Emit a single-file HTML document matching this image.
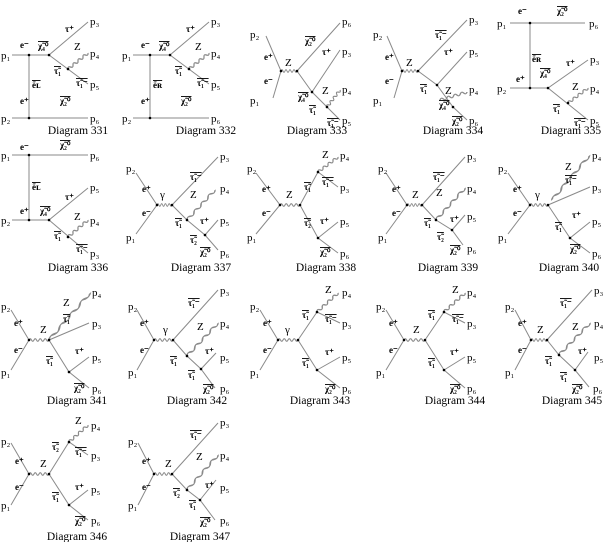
<!DOCTYPE html>
<html><head><meta charset="utf-8"><style>
html,body{margin:0;padding:0;background:#fff}
svg{display:block}
.l{stroke:#8a8a8a;stroke-width:1;fill:none}
.w{stroke:#8a8a8a;stroke-width:1.1;fill:none}
text{font-family:"Liberation Serif",serif;fill:#000}
.p{font-size:11px}
.s{font-size:9px;font-weight:bold}
.d{font-size:11.5px;text-anchor:middle}
.o{text-decoration:overline}
.z{font-weight:normal;font-size:11px}
</style></head><body>
<svg width="605" height="542" viewBox="0 0 605 542" xmlns="http://www.w3.org/2000/svg">
<defs>
<path id="w" d="M0,0 q1.25,-2.6 2.5,0 t2.5,0 t2.5,0 t2.5,0 t2.5,0 t2.5,0 t2.5,0 t2.5,0"/>
</defs>
<g class="l">
<path d="M12,55 H49 L88,22 M49,55 L88,84 M29,55 V118 M12,118 H88"/>
<path d="M133,55 H170 L209,22 M170,55 L209,84 M150,55 V118 M133,118 H209"/>
<path d="M266,36 L281,71 L273,98 M297,71 L340,23 M297,71 L312,92 L340,50 M312,92 L340,120"/>
<path d="M387,36 L402,71 L394,98 M418,71 L467,20 M418,71 L437,85 L467,52 M437,85 L453,107 L467,120"/>
<path d="M510,23 H585 M530,23 V88 M510,88 H548 L588,60 M548,88 L588,120"/>
<path d="M12,155 H88 M29,155 V220 M12,220 H49 L88,188 M49,220 L88,253"/>
<path d="M136,173 L157,205 L136,234 M172,205 L218,157 M172,205 L187,220 L205,235 L218,250 M205,235 L218,220"/>
<path d="M256,173 L280,205 L256,234 M300,205 L318,172 L338,187 M300,205 L318,238 L338,222 M318,238 L338,253"/>
<path d="M386,173 L407,205 L386,234 M422,205 L465,157 M422,205 L436,220 L452,230 L463,245 M452,230 L465,215"/>
<path d="M508,173 L530,205 L508,234 M548,205 L590,187 M548,205 L570,238 L590,222 M570,238 L590,253"/>
<path d="M11,310 L29,340 L11,370 M49,340 L89,323 M49,340 L69,372 L89,357 M69,372 L89,388"/>
<path d="M137,310 L154,340 L137,370 M173,340 L218,290 M173,340 L187,356 L201,369 L215,388 M201,369 L216,353"/>
<path d="M260,310 L278,340 L260,370 M298,340 L317,312 L340,323 M298,340 L317,370 L340,357 M317,370 L340,388"/>
<path d="M386,310 L404,340 L386,370 M425,340 L444,312 L465,323 M425,340 L444,370 L465,357 M444,370 L465,388"/>
<path d="M515,310 L531,340 L515,370 M547,340 L592,290 M547,340 L559,355 L575,370 L589,387 M575,370 L588,352"/>
<path d="M11,443 L29,474 L11,505 M49,474 L69,442 L88,455 M49,474 L69,505 L88,490 M69,505 L88,520"/>
<path d="M138,443 L154,474 L138,505 M172,474 L218,423 M172,474 L187,490 L200,500 L215,520 M200,500 L216,480"/>
</g>
<g class="w">
<use href="#w" transform="translate(68,69) rotate(-38.7) scale(1.28,1)"/>
<use href="#w" transform="translate(189,69) rotate(-38.7) scale(1.28,1)"/>
<use href="#w" transform="translate(281,71) scale(0.8,1)"/>
<use href="#w" transform="translate(327,107) rotate(-52.6) scale(1.07,1)"/>
<use href="#w" transform="translate(402,71) scale(0.8,1)"/>
<use href="#w" transform="translate(440,100) rotate(-16.5) scale(1.41,1)"/>
<use href="#w" transform="translate(568,103) rotate(-36.9) scale(1.25,1)"/>
<use href="#w" transform="translate(68,237) rotate(-40.4) scale(1.31,1)"/>
<use href="#w" transform="translate(157,205) scale(0.75,1)"/>
<use href="#w" transform="translate(187,220) rotate(-47) scale(2.05,1)"/>
<use href="#w" transform="translate(280,205) scale(1,1)"/>
<use href="#w" transform="translate(318,172) rotate(-36.9) scale(1.25,1)"/>
<use href="#w" transform="translate(407,205) scale(0.75,1)"/>
<use href="#w" transform="translate(436,220) rotate(-47.8) scale(2.16,1)"/>
<use href="#w" transform="translate(530,205) scale(0.9,1)"/>
<use href="#w" transform="translate(552,200) rotate(-50) scale(2.9,1)"/>
<use href="#w" transform="translate(29,340) scale(1,1)"/>
<use href="#w" transform="translate(49,340) rotate(-48.9) scale(3.12,1)"/>
<use href="#w" transform="translate(154,340) scale(0.95,1)"/>
<use href="#w" transform="translate(187,356) rotate(-46.8) scale(2.26,1)"/>
<use href="#w" transform="translate(278,340) scale(1,1)"/>
<use href="#w" transform="translate(317,312) rotate(-42.1) scale(1.42,1)"/>
<use href="#w" transform="translate(404,340) scale(1.05,1)"/>
<use href="#w" transform="translate(444,312) rotate(-42.1) scale(1.42,1)"/>
<use href="#w" transform="translate(531,340) scale(0.8,1)"/>
<use href="#w" transform="translate(559,355) rotate(-45.9) scale(2.23,1)"/>
<use href="#w" transform="translate(29,474) scale(1,1)"/>
<use href="#w" transform="translate(69,442) rotate(-41.8) scale(1.27,1)"/>
<use href="#w" transform="translate(154,474) scale(0.9,1)"/>
<use href="#w" transform="translate(187,490) rotate(-48.5) scale(2.34,1)"/>
</g>
<g fill="#000">
<circle cx="29" cy="55" r="1.3"/><circle cx="49" cy="55" r="1.3"/><circle cx="68" cy="69" r="1.3"/><circle cx="29" cy="118" r="1.3"/>
<circle cx="150" cy="55" r="1.3"/><circle cx="170" cy="55" r="1.3"/><circle cx="189" cy="69" r="1.3"/><circle cx="150" cy="118" r="1.3"/>
<circle cx="281" cy="71" r="1.3"/><circle cx="297" cy="71" r="1.3"/><circle cx="312" cy="92" r="1.3"/><circle cx="327" cy="107" r="1.3"/>
<circle cx="402" cy="71" r="1.3"/><circle cx="418" cy="71" r="1.3"/><circle cx="437" cy="85" r="1.3"/><circle cx="453" cy="107" r="1.3"/>
<circle cx="530" cy="23" r="1.3"/><circle cx="530" cy="88" r="1.3"/><circle cx="548" cy="88" r="1.3"/><circle cx="568" cy="103" r="1.3"/>
<circle cx="29" cy="155" r="1.3"/><circle cx="29" cy="220" r="1.3"/><circle cx="49" cy="220" r="1.3"/><circle cx="68" cy="237" r="1.3"/>
<circle cx="157" cy="205" r="1.3"/><circle cx="172" cy="205" r="1.3"/><circle cx="187" cy="220" r="1.3"/><circle cx="205" cy="235" r="1.3"/>
<circle cx="280" cy="205" r="1.3"/><circle cx="300" cy="205" r="1.3"/><circle cx="318" cy="172" r="1.3"/><circle cx="318" cy="238" r="1.3"/>
<circle cx="407" cy="205" r="1.3"/><circle cx="422" cy="205" r="1.3"/><circle cx="436" cy="220" r="1.3"/><circle cx="452" cy="230" r="1.3"/>
<circle cx="530" cy="205" r="1.3"/><circle cx="548" cy="205" r="1.3"/><circle cx="570" cy="238" r="1.3"/>
<circle cx="29" cy="340" r="1.3"/><circle cx="49" cy="340" r="1.3"/><circle cx="69" cy="372" r="1.3"/>
<circle cx="154" cy="340" r="1.3"/><circle cx="173" cy="340" r="1.3"/><circle cx="187" cy="356" r="1.3"/><circle cx="201" cy="369" r="1.3"/>
<circle cx="278" cy="340" r="1.3"/><circle cx="298" cy="340" r="1.3"/><circle cx="317" cy="312" r="1.3"/><circle cx="317" cy="370" r="1.3"/>
<circle cx="404" cy="340" r="1.3"/><circle cx="425" cy="340" r="1.3"/><circle cx="444" cy="312" r="1.3"/><circle cx="444" cy="370" r="1.3"/>
<circle cx="531" cy="340" r="1.3"/><circle cx="547" cy="340" r="1.3"/><circle cx="559" cy="355" r="1.3"/><circle cx="575" cy="370" r="1.3"/>
<circle cx="29" cy="474" r="1.3"/><circle cx="49" cy="474" r="1.3"/><circle cx="69" cy="442" r="1.3"/><circle cx="69" cy="505" r="1.3"/>
<circle cx="154" cy="474" r="1.3"/><circle cx="172" cy="474" r="1.3"/><circle cx="187" cy="490" r="1.3"/><circle cx="200" cy="500" r="1.3"/>
</g>
<g class="p">
<text x="1" y="59">p₁</text><text x="90" y="25">p₃</text><text x="90" y="57">p₄</text><text x="90" y="88">p₅</text><text x="1" y="122">p₂</text><text x="90" y="122">p₆</text>
<text x="122" y="59">p₁</text><text x="211" y="25">p₃</text><text x="211" y="57">p₄</text><text x="211" y="88">p₅</text><text x="122" y="122">p₂</text><text x="211" y="122">p₆</text>
<text x="250" y="38">p₂</text><text x="250" y="104">p₁</text><text x="342" y="25">p₆</text><text x="342" y="55">p₃</text><text x="342" y="93">p₄</text><text x="342" y="124">p₅</text>
<text x="373" y="38">p₂</text><text x="373" y="104">p₁</text><text x="469" y="23">p₃</text><text x="469" y="55">p₅</text><text x="469" y="93">p₄</text><text x="469" y="124">p₆</text>
<text x="497" y="27">p₁</text><text x="589" y="27">p₆</text><text x="497" y="92">p₂</text><text x="590" y="63">p₃</text><text x="590" y="92">p₄</text><text x="590" y="124">p₅</text>
<text x="1" y="159">p₁</text><text x="90" y="159">p₆</text><text x="1" y="224">p₂</text><text x="90" y="191">p₅</text><text x="90" y="224">p₄</text><text x="90" y="257">p₃</text>
<text x="126" y="172">p₂</text><text x="126" y="241">p₁</text><text x="220" y="160">p₃</text><text x="220" y="192">p₄</text><text x="220" y="224">p₅</text><text x="220" y="256">p₆</text>
<text x="247" y="172">p₂</text><text x="247" y="241">p₁</text><text x="340" y="159">p₄</text><text x="340" y="191">p₃</text><text x="340" y="225">p₅</text><text x="340" y="257">p₆</text>
<text x="378" y="172">p₂</text><text x="378" y="241">p₁</text><text x="467" y="160">p₃</text><text x="467" y="192">p₄</text><text x="467" y="220">p₅</text><text x="467" y="252">p₆</text>
<text x="498" y="172">p₂</text><text x="498" y="241">p₁</text><text x="592" y="159">p₄</text><text x="592" y="191">p₃</text><text x="592" y="225">p₅</text><text x="592" y="257">p₆</text>
<text x="1" y="310">p₂</text><text x="1" y="376">p₁</text><text x="92" y="296">p₄</text><text x="92" y="327">p₃</text><text x="92" y="361">p₅</text><text x="92" y="392">p₆</text>
<text x="128" y="310">p₂</text><text x="128" y="376">p₁</text><text x="220" y="294">p₃</text><text x="220" y="327">p₄</text><text x="220" y="361">p₅</text><text x="220" y="392">p₆</text>
<text x="250" y="310">p₂</text><text x="250" y="376">p₁</text><text x="342" y="296">p₄</text><text x="342" y="327">p₃</text><text x="342" y="361">p₅</text><text x="342" y="392">p₆</text>
<text x="376" y="310">p₂</text><text x="376" y="376">p₁</text><text x="467" y="296">p₄</text><text x="467" y="327">p₃</text><text x="467" y="361">p₅</text><text x="467" y="392">p₆</text>
<text x="505" y="310">p₂</text><text x="505" y="376">p₁</text><text x="594" y="294">p₃</text><text x="594" y="327">p₄</text><text x="594" y="361">p₅</text><text x="593" y="392">p₆</text>
<text x="1" y="445">p₂</text><text x="1" y="509">p₁</text><text x="91" y="429">p₄</text><text x="91" y="459">p₃</text><text x="91" y="493">p₅</text><text x="91" y="524">p₆</text>
<text x="128" y="445">p₂</text><text x="128" y="509">p₁</text><text x="220" y="426">p₃</text><text x="220" y="459">p₄</text><text x="220" y="491">p₅</text><text x="220" y="524">p₆</text>
</g>
<g class="s">
<text x="20" y="48">e⁻</text><text x="38" y="49" class="o">χ̃₄⁰</text><text x="65" y="32">τ⁺</text><text x="74" y="50" class="z">Z</text><text x="54" y="74" class="o">τ̃₁</text><text x="76" y="86" class="o">τ̃₁⁻</text><text x="32" y="88" class="o">ẽʟ</text><text x="20" y="104">e⁺</text><text x="60" y="104" class="o">χ̃₂⁰</text>
<text x="141" y="48">e⁻</text><text x="159" y="49" class="o">χ̃₄⁰</text><text x="186" y="32">τ⁺</text><text x="195" y="50" class="z">Z</text><text x="175" y="74" class="o">τ̃₁</text><text x="197" y="86" class="o">τ̃₁⁻</text><text x="153" y="88" class="o">ẽʀ</text><text x="141" y="104">e⁺</text><text x="181" y="104" class="o">χ̃₂⁰</text>
<text x="264" y="60">e⁺</text><text x="264" y="84">e⁻</text><text x="285" y="66" class="z">Z</text><text x="305" y="44" class="o">χ̃₂⁰</text><text x="298" y="100" class="o">χ̃₄⁰</text><text x="322" y="55">τ⁺</text><text x="322" y="94" class="z">Z</text><text x="309" y="113" class="o">τ̃₁</text><text x="327" y="126" class="o">τ̃₁⁻</text>
<text x="385" y="60">e⁺</text><text x="385" y="84">e⁻</text><text x="406" y="66" class="z">Z</text><text x="435" y="38" class="o">τ̃₁⁻</text><text x="420" y="92" class="o">τ̃₁</text><text x="444" y="55">τ⁺</text><text x="445" y="94" class="z">Z</text><text x="439" y="108" class="o">χ̃₄⁰</text><text x="452" y="124" class="o">χ̃₂⁰</text>
<text x="518" y="14">e⁻</text><text x="557" y="14" class="o">χ̃₂⁰</text><text x="532" y="62" class="o">ẽʀ</text><text x="516" y="82">e⁺</text><text x="540" y="76" class="o">χ̃₄⁰</text><text x="566" y="66">τ⁺</text><text x="572" y="90" class="z">Z</text><text x="553" y="112" class="o">τ̃₁</text><text x="574" y="126" class="o">τ̃₁⁻</text>
<text x="20" y="150">e⁻</text><text x="60" y="148" class="o">χ̃₂⁰</text><text x="32" y="190" class="o">ẽʟ</text><text x="20" y="214">e⁺</text><text x="40" y="214" class="o">χ̃₄⁰</text><text x="65" y="200">τ⁺</text><text x="74" y="220" class="z">Z</text><text x="54" y="239" class="o">τ̃₁</text><text x="76" y="252" class="o">τ̃₁⁻</text>
<text x="142" y="192">e⁺</text><text x="142" y="216">e⁻</text><text x="160" y="198" class="z">γ</text><text x="190" y="180" class="o">τ̃₁⁻</text><text x="190" y="198" class="z">Z</text><text x="175" y="226" class="o">τ̃₁</text><text x="200" y="224">τ⁺</text><text x="190" y="243" class="o">τ̃₂</text><text x="200" y="255" class="o">χ̃₂⁰</text>
<text x="262" y="192">e⁺</text><text x="262" y="216">e⁻</text><text x="286" y="198" class="z">Z</text><text x="304" y="190" class="o">τ̃₁</text><text x="322" y="158" class="z">Z</text><text x="322" y="185" class="o">τ̃₁⁻</text><text x="304" y="226" class="o">τ̃₂</text><text x="320" y="224">τ⁺</text><text x="320" y="255" class="o">χ̃₂⁰</text>
<text x="392" y="192">e⁺</text><text x="392" y="216">e⁻</text><text x="412" y="198" class="z">Z</text><text x="433" y="180" class="o">τ̃₁⁻</text><text x="436" y="196" class="z">Z</text><text x="424" y="226" class="o">τ̃₁</text><text x="450" y="222">τ⁺</text><text x="437" y="240" class="o">τ̃₂</text><text x="450" y="253" class="o">χ̃₂⁰</text>
<text x="513" y="192">e⁺</text><text x="513" y="216">e⁻</text><text x="535" y="198" class="z">γ</text><text x="565" y="170" class="z">Z</text><text x="565" y="183" class="o">τ̃₁⁻</text><text x="555" y="230" class="o">τ̃₁</text><text x="572" y="218">τ⁺</text><text x="570" y="252" class="o">χ̃₂⁰</text>
<text x="14" y="326">e⁺</text><text x="14" y="353">e⁻</text><text x="40" y="333" class="z">Z</text><text x="63" y="306" class="z">Z</text><text x="63" y="322" class="o">τ̃₁</text><text x="46" y="364" class="o">τ̃₁</text><text x="75" y="354">τ⁺</text><text x="74" y="391" class="o">χ̃₂⁰</text>
<text x="140" y="326">e⁺</text><text x="140" y="353">e⁻</text><text x="163" y="333" class="z">γ</text><text x="188" y="306" class="o">τ̃₁⁻</text><text x="197" y="330" class="z">Z</text><text x="170" y="364" class="o">τ̃₁</text><text x="205" y="354">τ⁺</text><text x="188" y="378" class="o">τ̃₁</text><text x="203" y="392" class="o">χ̃₂⁰</text>
<text x="263" y="326">e⁺</text><text x="263" y="353">e⁻</text><text x="285" y="333" class="z">γ</text><text x="302" y="318" class="o">τ̃₁</text><text x="325" y="293" class="z">Z</text><text x="325" y="322" class="o">τ̃₁⁻</text><text x="302" y="366" class="o">τ̃₁</text><text x="325" y="355">τ⁺</text><text x="325" y="392" class="o">χ̃₂⁰</text>
<text x="389" y="326">e⁺</text><text x="389" y="353">e⁻</text><text x="413" y="333" class="z">Z</text><text x="428" y="318" class="o">τ̃₁</text><text x="452" y="293" class="z">Z</text><text x="452" y="322" class="o">τ̃₁⁻</text><text x="428" y="366" class="o">τ̃₁</text><text x="450" y="355">τ⁺</text><text x="450" y="392" class="o">χ̃₂⁰</text>
<text x="518" y="326">e⁺</text><text x="518" y="353">e⁻</text><text x="537" y="333" class="z">Z</text><text x="560" y="306" class="o">τ̃₁⁻</text><text x="572" y="330" class="z">Z</text><text x="545" y="364" class="o">τ̃₁</text><text x="578" y="354">τ⁺</text><text x="560" y="380" class="o">τ̃₁</text><text x="572" y="392" class="o">χ̃₂⁰</text>
<text x="15" y="464">e⁺</text><text x="15" y="490">e⁻</text><text x="40" y="467" class="z">Z</text><text x="52" y="450" class="o">τ̃₂</text><text x="75" y="424" class="z">Z</text><text x="75" y="455" class="o">τ̃₁⁻</text><text x="52" y="500" class="o">τ̃₁</text><text x="75" y="490">τ⁺</text><text x="75" y="524" class="o">χ̃₂⁰</text>
<text x="142" y="464">e⁺</text><text x="142" y="490">e⁻</text><text x="165" y="467" class="z">Z</text><text x="190" y="438" class="o">τ̃₁⁻</text><text x="196" y="460" class="z">Z</text><text x="173" y="496" class="o">τ̃₂</text><text x="205" y="488">τ⁺</text><text x="189" y="508" class="o">τ̃₁</text><text x="200" y="525" class="o">χ̃₂⁰</text>
</g>
<g class="d">
<text x="78" y="134">Diagram 331</text><text x="206" y="134">Diagram 332</text><text x="317" y="134">Diagram 333</text><text x="453" y="134">Diagram 334</text><text x="571" y="134">Diagram 335</text>
<text x="78" y="271">Diagram 336</text><text x="201" y="271">Diagram 337</text><text x="326" y="271">Diagram 338</text><text x="448" y="271">Diagram 339</text><text x="569" y="271">Diagram 340</text>
<text x="77" y="404">Diagram 341</text><text x="197" y="404">Diagram 342</text><text x="320" y="404">Diagram 343</text><text x="455" y="404">Diagram 344</text><text x="572" y="404">Diagram 345</text>
<text x="77" y="540">Diagram 346</text><text x="200" y="540">Diagram 347</text>
</g>
</svg>
</body></html>
